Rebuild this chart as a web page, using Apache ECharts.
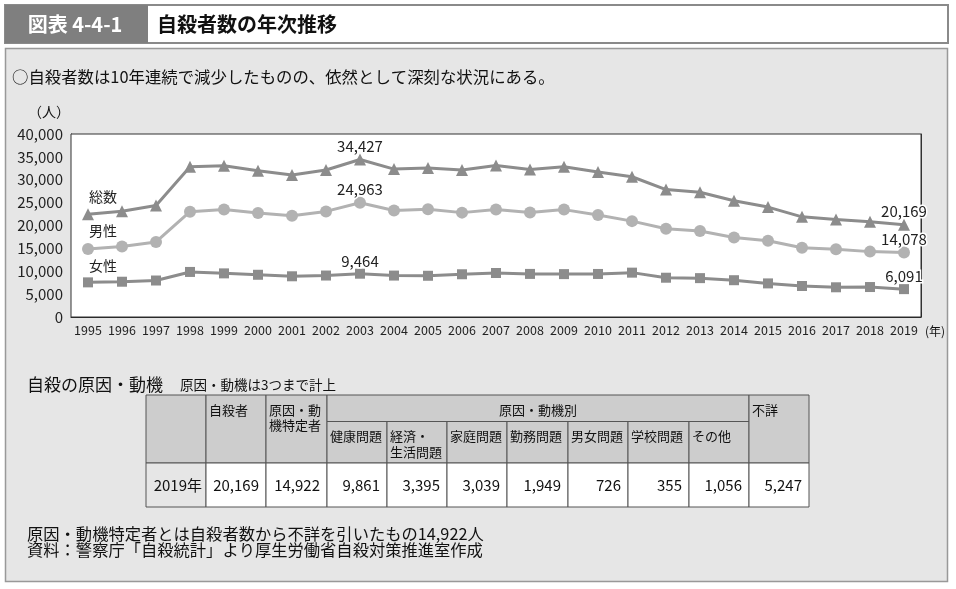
<!DOCTYPE html>
<html><head><meta charset="utf-8">
<script src="https://cdn.jsdelivr.net/npm/echarts@6/dist/echarts.min.js"></script>
<style>html,body{margin:0;padding:0;background:#fff}#c{width:956px;height:589px}</style>
</head><body><div id="c"></div>
<script>
// ---- data ----
const years = ['1995','1996','1997','1998','1999','2000','2001','2002','2003','2004','2005','2006','2007','2008','2009','2010','2011','2012','2013','2014','2015','2016','2017','2018','2019'];
const totalData  = [22445,23104,24391,32863,33048,31957,31042,32143,34427,32325,32552,32155,33093,32249,32845,31690,30651,27858,27283,25427,24025,21897,21321,20840,20169];
const maleData   = [14874,15393,16416,23013,23512,22727,22144,23080,24963,23272,23540,22813,23478,22831,23472,22283,20955,19273,18787,17386,16681,15121,14826,14290,14078];
const femaleData = [7571,7711,7975,9850,9536,9230,8898,9063,9464,9053,9012,9342,9615,9418,9373,9407,9696,8585,8496,8041,7344,6776,6495,6550,6091];
const seriesNames = ['総数','男性','女性'];
const labelledIdx = [8, 24];
const figNo = '図表 4-4-1';
const titleText = '自殺者数の年次推移';
const subtitle = '○自殺者数は10年連続で減少したものの、依然として深刻な状況にある。';
const tableTitle = '自殺の原因・動機';
const tableNote = '原因・動機は3つまで計上';
const mainHeaders = ['', '自殺者', '原因・動\n機特定者'];
const groupHeader = '原因・動機別';
const causeHeaders = ['健康問題', '経済・\n生活問題', '家庭問題', '勤務問題', '男女問題', '学校問題', 'その他'];
const lastHeader = '不詳';
const rowLabel = '2019年';
const rowValues = [20169, 14922, 9861, 3395, 3039, 1949, 726, 355, 1056, 5247];
const footer1 = '原因・動機特定者とは自殺者数から不詳を引いたもの14,922人';
const footer2 = '資料：警察庁「自殺統計」より厚生労働省自殺対策推進室作成';

// ---- styles / layout ----
const FF = '"Noto Sans CJK JP", "Noto Sans", sans-serif';
const fmt = v => v.toLocaleString('en-US');
const colEdges = [146, 206, 266, 327, 387, 447, 507, 568, 628, 689, 749, 809];
const rowEdges = [395, 421.5, 463, 507];

function mk(arr, name) {
  return arr.map((v, i) => {
    if (labelledIdx.includes(i)) return {value: v, label: {show: true, formatter: fmt(v), position: 'top', distance: 0,
      fontSize: 15, color: '#222', fontFamily: FF, textBorderColor: '#fff', textBorderWidth: 3}};
    if (i === 0) return {value: v, label: {show: true, formatter: name, position: 'top', distance: 5, offset: [15, 0],
      fontSize: 14, color: '#222', fontFamily: FF}};
    return v;
  });
}

const g = [];
// title bar
g.push({type: 'rect', z: -20, shape: {x: 5, y: 5, width: 943, height: 38}, style: {fill: '#fff', stroke: '#8a8a8a', lineWidth: 2}});
g.push({type: 'rect', z: -19, shape: {x: 5, y: 5, width: 143, height: 38}, style: {fill: '#7f7f7f'}});
g.push({type: 'text', z: 10, style: {text: figNo, x: 75, y: 24, fill: '#fff', font: 'bold 20px ' + FF, textAlign: 'center', textVerticalAlign: 'middle'}});
g.push({type: 'text', z: 10, style: {text: titleText, x: 157, y: 24, fill: '#111', font: 'bold 20px ' + FF, textAlign: 'left', textVerticalAlign: 'middle'}});
// panel
g.push({type: 'rect', z: -20, shape: {x: 5.5, y: 48.5, width: 942, height: 533}, style: {fill: '#e6e6e6', stroke: '#999', lineWidth: 1.5}});
g.push({type: 'text', z: 10, style: {text: subtitle, x: 12, y: 77, fill: '#111', font: '16.4px ' + FF, textVerticalAlign: 'middle'}});
g.push({type: 'text', z: 10, style: {text: '（人）', x: 49, y: 112, fill: '#111', font: '14px ' + FF, textAlign: 'center', textVerticalAlign: 'middle'}});
g.push({type: 'text', z: 10, style: {text: '(年)', x: 935, y: 331, fill: '#111', font: '12px ' + FF, textAlign: 'center', textVerticalAlign: 'middle'}});
// table section
g.push({type: 'text', z: 10, style: {text: tableTitle, x: 27, y: 385, fill: '#111', font: '17px ' + FF, textVerticalAlign: 'middle'}});
g.push({type: 'text', z: 10, style: {text: tableNote, x: 180, y: 385, fill: '#111', font: '13.5px ' + FF, textVerticalAlign: 'middle'}});
g.push({type: 'text', z: 10, style: {text: footer1, x: 27, y: 533.5, fill: '#111', font: '16.3px ' + FF, textVerticalAlign: 'middle'}});
g.push({type: 'text', z: 10, style: {text: footer2, x: 27, y: 550, fill: '#111', font: '16.3px ' + FF, textVerticalAlign: 'middle'}});

function cell(x0, y0, x1, y1, fill) {
  g.push({type: 'rect', z: 5, shape: {x: x0, y: y0, width: x1 - x0, height: y1 - y0}, style: {fill: fill, stroke: '#555', lineWidth: 1}});
}
function htext(txt, x, y, align) {
  txt.split('\n').forEach((line, k) => {
    g.push({type: 'text', z: 10, style: {text: line, x: x, y: y + k * 15.5, fill: '#111', font: '13px ' + FF, textAlign: align || 'left', textVerticalAlign: 'middle'}});
  });
}
const HF = '#cdcdcd';
for (let c = 0; c < 3; c++) { cell(colEdges[c], rowEdges[0], colEdges[c + 1], rowEdges[2], HF); htext(mainHeaders[c], colEdges[c] + 3, 410); }
cell(colEdges[3], rowEdges[0], colEdges[10], rowEdges[1], HF);
htext(groupHeader, (colEdges[3] + colEdges[10]) / 2, 410, 'center');
for (let c = 0; c < causeHeaders.length; c++) { cell(colEdges[3 + c], rowEdges[1], colEdges[4 + c], rowEdges[2], HF); htext(causeHeaders[c], colEdges[3 + c] + 3, 436.5); }
cell(colEdges[10], rowEdges[0], colEdges[11], rowEdges[2], HF); htext(lastHeader, colEdges[10] + 3, 410);
cell(colEdges[0], rowEdges[2], colEdges[1], rowEdges[3], '#e6e6e6');
g.push({type: 'text', z: 10, style: {text: rowLabel, x: colEdges[1] - 4, y: 485, fill: '#111', font: '15px ' + FF, textAlign: 'right', textVerticalAlign: 'middle'}});
rowValues.forEach((v, k) => {
  cell(colEdges[k + 1], rowEdges[2], colEdges[k + 2], rowEdges[3], '#fff');
  g.push({type: 'text', z: 10, style: {text: fmt(v), x: colEdges[k + 2] - 7, y: 485, fill: '#111', font: '15px ' + FF, textAlign: 'right', textVerticalAlign: 'middle'}});
});

const splitColors = ['#444', '#444', '#444', '#444', '#a8a8a8', '#444', '#444', '#444', '#444'];

const chart = echarts.init(document.getElementById('c'));
chart.setOption({
  backgroundColor: '#fff',
  animation: false,
  graphic: {elements: g},
  grid: {left: 71, right: 35, top: 134, bottom: 272, show: true, backgroundColor: '#fff', borderColor: '#333', borderWidth: 1, z: 1},
  xAxis: {
    type: 'category', data: years, boundaryGap: true,
    axisLine: {lineStyle: {color: '#222', width: 1}},
    axisTick: {show: true, inside: true, length: 5, lineStyle: {color: '#222'}},
    axisLabel: {fontSize: 12.5, color: '#222', fontFamily: FF, margin: 7, interval: 0}
  },
  yAxis: [{
    type: 'value', min: 0, max: 40000, interval: 5000,
    axisLine: {show: true, lineStyle: {color: '#222', width: 1}},
    axisTick: {show: false},
    axisLabel: {fontSize: 15, color: '#222', fontFamily: FF, margin: 8, formatter: v => fmt(v)},
    splitLine: {lineStyle: {color: splitColors, width: 1}}
  }, {
    type: 'value', position: 'right', min: 0, max: 40000, interval: 5000,
    axisLine: {show: true, lineStyle: {color: '#333', width: 1}},
    axisTick: {show: false}, axisLabel: {show: false}, splitLine: {show: false}
  }],
  series: [
    {name: seriesNames[0], type: 'line', data: mk(totalData, seriesNames[0]), symbol: 'triangle', symbolSize: 12,
      lineStyle: {color: '#8c8c8c', width: 3}, itemStyle: {color: '#8c8c8c'}, z: 3},
    {name: seriesNames[1], type: 'line', data: mk(maleData, seriesNames[1]), symbol: 'circle', symbolSize: 12,
      lineStyle: {color: '#b2b2b2', width: 3}, itemStyle: {color: '#b2b2b2'}, z: 3},
    {name: seriesNames[2], type: 'line', data: mk(femaleData, seriesNames[2]), symbol: 'rect', symbolSize: 10,
      lineStyle: {color: '#8c8c8c', width: 3}, itemStyle: {color: '#8c8c8c'}, z: 3}
  ]
});
</script></body></html>
